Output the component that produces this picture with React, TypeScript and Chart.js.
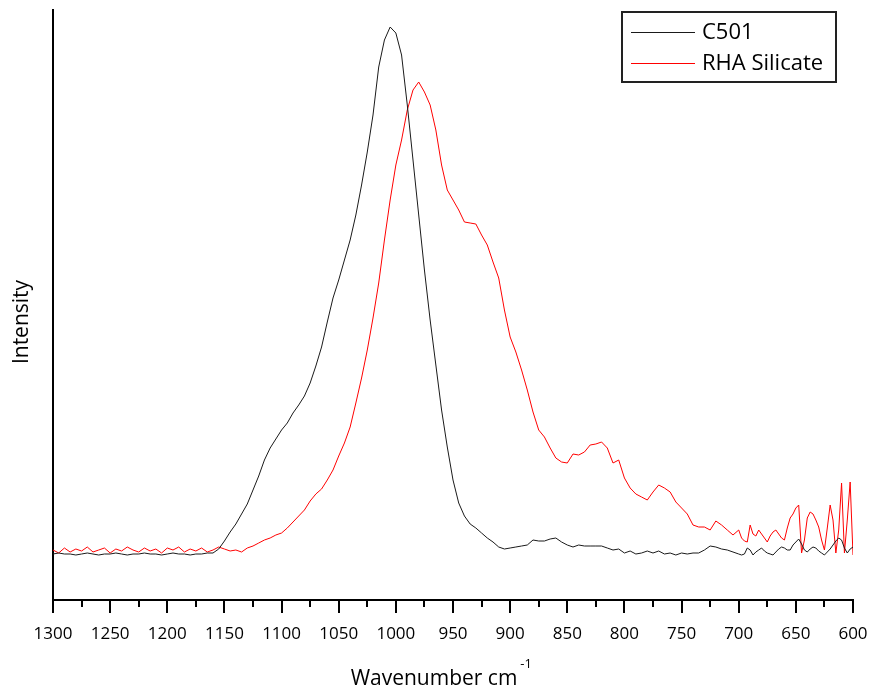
import React, { useEffect, useRef } from "react";
import { Chart, registerables } from "chart.js";

Chart.register(...registerables);

// Wavenumber grid (cm^-1): 1300 -> 705 in steps of 5, then 700 -> 600 in steps of 2.5
const WAVENUMBERS: number[] = [
  1300, 1295, 1290, 1285, 1280, 1275, 1270, 1265, 1260, 1255,
  1250, 1245, 1240, 1235, 1230, 1225, 1220, 1215, 1210, 1205,
  1200, 1195, 1190, 1185, 1180, 1175, 1170, 1165, 1160, 1155,
  1150, 1145, 1140, 1135, 1130, 1125, 1120, 1115, 1110, 1105,
  1100, 1095, 1090, 1085, 1080, 1075, 1070, 1065, 1060, 1055,
  1050, 1045, 1040, 1035, 1030, 1025, 1020, 1015, 1010, 1005,
  1000, 995, 990, 985, 980, 975, 970, 965, 960, 955,
  950, 945, 940, 935, 930, 925, 920, 915, 910, 905,
  900, 895, 890, 885, 880, 875, 870, 865, 860, 855,
  850, 845, 840, 835, 830, 825, 820, 815, 810, 805,
  800, 795, 790, 785, 780, 775, 770, 765, 760, 755,
  750, 745, 740, 735, 730, 725, 720, 715, 710, 705,
  700, 697.5, 695, 692.5, 690, 687.5, 685, 682.5, 680, 677.5,
  675, 672.5, 670, 667.5, 665, 662.5, 660, 657.5, 655, 652.5,
  650, 647.5, 645, 642.5, 640, 637.5, 635, 632.5, 630, 627.5,
  625, 622.5, 620, 617.5, 615, 612.5, 610, 607.5, 605, 602.5,
  600,
];

// Intensity (arbitrary units)
const C501: number[] = [
  46, 47, 46, 46, 45, 46, 47, 46, 45, 46,
  46, 47, 46, 45, 46, 46, 47, 46, 46, 45,
  46, 47, 46, 46, 45, 46, 46, 47, 47, 51,
  59, 68, 76, 86, 96, 110, 124, 140, 152, 161,
  170, 177, 187, 195, 204, 217, 234, 253, 278, 302,
  320, 340, 360, 385, 415, 448, 485, 533, 560, 573,
  567, 545, 495, 440, 385, 330, 280, 235, 190, 153,
  120, 97, 84, 76, 72, 67, 62, 58, 53, 51,
  52, 53, 54, 55, 60, 59, 59, 61, 62, 58,
  55, 53, 55, 54, 54, 54, 54, 52, 50, 51,
  47, 49, 46, 47, 49, 47, 49, 46, 47, 45,
  47, 46, 47, 47, 50, 54, 53, 51, 50, 48,
  46, 45, 46, 52, 50, 45, 48, 50, 52, 49,
  47, 46, 45, 48, 51, 53, 52, 50, 50, 55,
  58, 61, 56, 50, 48, 51, 53, 52, 49, 47,
  45, 48, 51, 55, 59, 62, 60, 52, 47, 51,
  53,
];

const RHA_SILICATE: number[] = [
  50, 47, 52, 48, 51, 49, 53, 48, 50, 52,
  47, 51, 49, 53, 50, 48, 52, 49, 51, 47,
  52, 50, 53, 48, 51, 49, 52, 48, 50, 53,
  51, 49, 50, 48, 52, 54, 57, 60, 62, 65,
  67, 72, 78, 84, 90, 99, 106, 111, 120, 130,
  144, 157, 173, 197, 222, 250, 282, 317, 360, 400,
  435, 460, 490, 510, 518, 508, 495, 470, 435, 410,
  400, 390, 378, 377, 376, 365, 355, 338, 322, 290,
  263, 248, 230, 210, 188, 170, 163, 152, 142, 138,
  137, 146, 145, 148, 155, 156, 158, 152, 137, 140,
  122, 112, 106, 103, 100, 108, 115, 112, 108, 98,
  92, 86, 75, 73, 73, 70, 79, 75, 70, 65,
  70, 62, 59, 58, 75, 66, 64, 70, 66, 62,
  58, 64, 68, 70, 66, 62, 60, 72, 82, 86,
  92, 95, 47, 60, 82, 88, 86, 80, 73, 60,
  50, 72, 95, 80, 47, 70, 117, 47, 80, 118,
  45,
];

const SERIES_NAMES: string[] = ["C501", "RHA Silicate"];
const SERIES_COLORS: string[] = ["#1a1a1a", "#ff0000"];
const X_MAJOR_TICKS: number[] = [
  1300, 1250, 1200, 1150, 1100, 1050, 1000, 950, 900, 850, 800, 750, 700, 650, 600,
];
const X_MINOR_TICKS: number[] = [
  1275, 1225, 1175, 1125, 1075, 1025, 975, 925, 875, 825, 775, 725, 675, 625,
];
const X_TITLE = "Wavenumber cm";
const X_TITLE_SUP = "-1";
const Y_TITLE = "Intensity";

const FONT = "'Open Sans', 'DejaVu Sans', sans-serif";

export default function App() {
  const canvasRef = useRef<HTMLCanvasElement | null>(null);

  useEffect(() => {
    const canvas = canvasRef.current;
    if (!canvas) return;

    const toPoints = (ys: number[]) => WAVENUMBERS.map((x, i) => ({ x, y: ys[i] }));

    const decorations = {
      id: "decorations",
      afterDraw(chart: any) {
        const { ctx, chartArea } = chart;
        const xs = chart.scales.x;
        ctx.save();
        // tick marks (major and minor) below x axis
        ctx.strokeStyle = "#000";
        ctx.lineWidth = 2;
        const base = chartArea.bottom;
        X_MAJOR_TICKS.forEach((v) => {
          const px = Math.round(xs.getPixelForValue(v));
          ctx.beginPath();
          ctx.moveTo(px, base);
          ctx.lineTo(px, base + 13);
          ctx.stroke();
        });
        X_MINOR_TICKS.forEach((v) => {
          const px = Math.round(xs.getPixelForValue(v));
          ctx.beginPath();
          ctx.moveTo(px, base);
          ctx.lineTo(px, base + 7);
          ctx.stroke();
        });

        // x axis title with superscript
        ctx.fillStyle = "#000";
        ctx.font = `21px ${FONT}`;
        ctx.textBaseline = "alphabetic";
        ctx.textAlign = "left";
        const w = ctx.measureText(X_TITLE).width;
        const tx = 434 - w / 2;
        ctx.fillText(X_TITLE, tx, 685);
        ctx.font = `13px ${FONT}`;
        ctx.fillText(X_TITLE_SUP, tx + w + 3, 668);

        // y axis title
        ctx.save();
        ctx.translate(22, 322);
        ctx.rotate(-Math.PI / 2);
        ctx.font = `21px ${FONT}`;
        ctx.textAlign = "center";
        ctx.textBaseline = "middle";
        ctx.fillText(Y_TITLE, 0, 0);
        ctx.restore();

        // legend box
        ctx.strokeStyle = "#222";
        ctx.lineWidth = 2;
        ctx.strokeRect(622, 12, 214, 70);
        const rows = [32, 63];
        SERIES_NAMES.forEach((name, i) => {
          ctx.strokeStyle = SERIES_COLORS[i];
          ctx.lineWidth = 1;
          ctx.beginPath();
          ctx.moveTo(631, rows[i] + 0.5);
          ctx.lineTo(695, rows[i] + 0.5);
          ctx.stroke();
          ctx.fillStyle = "#000";
          ctx.font = `22px ${FONT}`;
          ctx.textAlign = "left";
          ctx.textBaseline = "middle";
          ctx.fillText(name, 702, rows[i] + 1);
        });
        ctx.restore();
      },
    };

    const chart = new Chart(canvas, {
      type: "line",
      data: {
        datasets: [
          {
            label: SERIES_NAMES[0],
            data: toPoints(C501),
            borderColor: SERIES_COLORS[0],
            borderWidth: 1,
            pointRadius: 0,
            tension: 0,
            fill: false,
          },
          {
            label: SERIES_NAMES[1],
            data: toPoints(RHA_SILICATE),
            borderColor: SERIES_COLORS[1],
            borderWidth: 1,
            pointRadius: 0,
            tension: 0,
            fill: false,
          },
        ],
      },
      options: {
        responsive: false,
        animation: false,
        parsing: false,
        layout: { padding: { top: 10, right: 17, left: 0, bottom: 0 } },
        plugins: {
          legend: { display: false },
          tooltip: { enabled: false },
        },
        scales: {
          x: {
            type: "linear",
            reverse: true,
            min: 600,
            max: 1300,
            afterBuildTicks: (scale: any) => {
              scale.ticks = X_MAJOR_TICKS.map((v) => ({ value: v }));
            },
            afterFit: (scale: any) => {
              scale.height = 88;
              scale.paddingLeft = 0;
              scale.paddingRight = 0;
            },
            ticks: {
              autoSkip: false,
              maxRotation: 0,
              minRotation: 0,
              color: "#000",
              padding: 24,
              font: { family: FONT, size: 17 },
              callback: (v: any) => String(v),
            },
            grid: { display: false, drawTicks: false },
            border: { display: true, color: "#000", width: 2 },
          },
          y: {
            type: "linear",
            min: 0,
            max: 590,
            afterFit: (scale: any) => {
              scale.width = 53;
            },
            ticks: { display: false },
            grid: { display: false, drawTicks: false },
            border: { display: true, color: "#000", width: 2 },
          },
        },
      },
      plugins: [decorations],
    });

    return () => chart.destroy();
  }, []);

  return (
    <div style={{ position: "absolute", left: 0, top: 0, width: 870, height: 688, background: "#fff" }}>
      <canvas ref={canvasRef} width={870} height={688} style={{ width: 870, height: 688, display: "block" }} />
    </div>
  );
}
